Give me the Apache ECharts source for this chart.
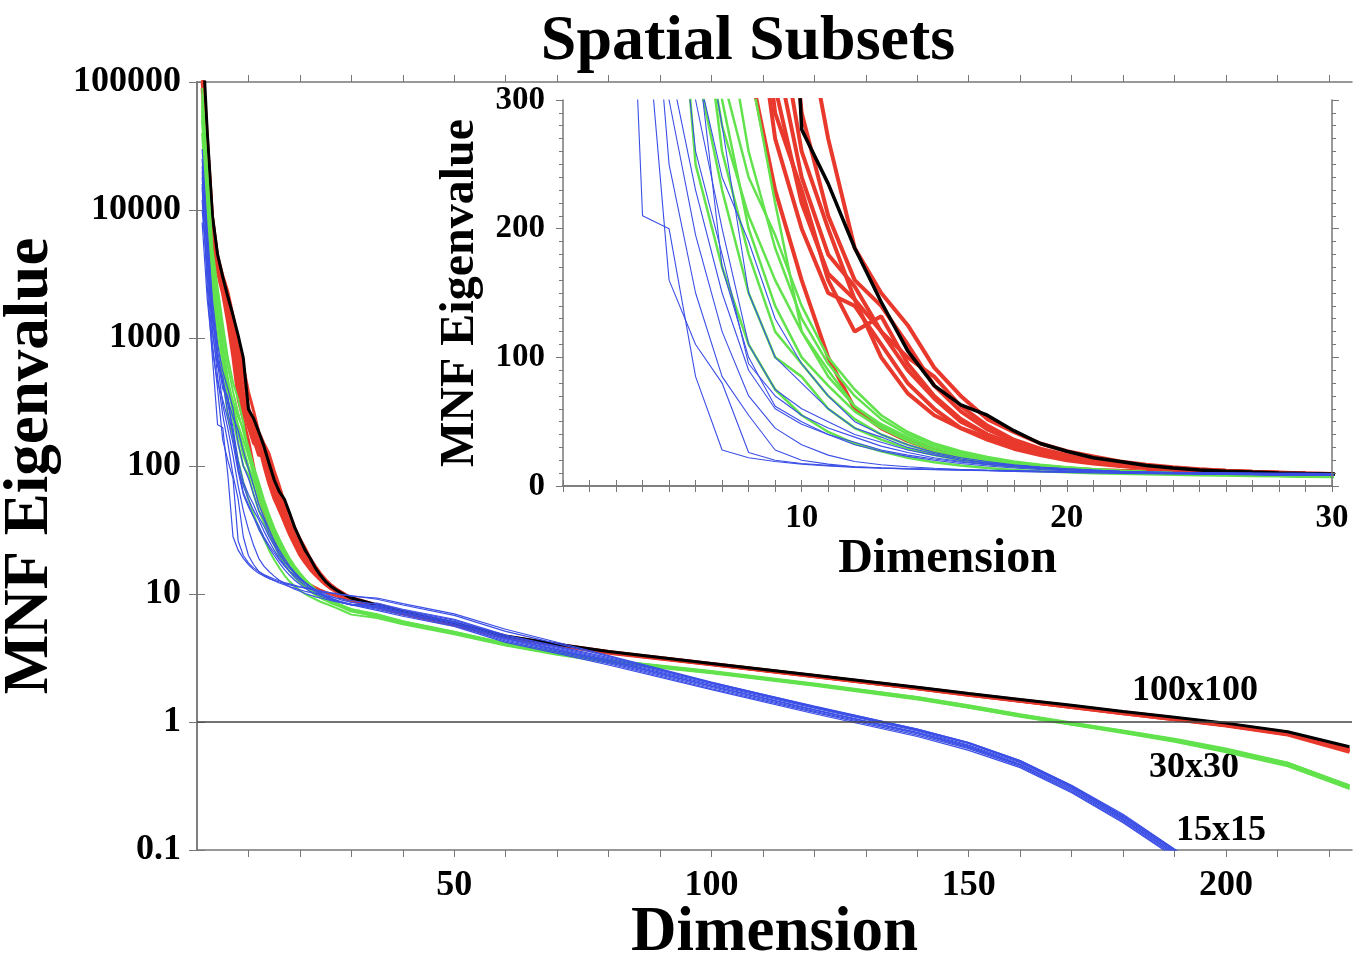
<!DOCTYPE html>
<html>
<head>
<meta charset="utf-8">
<title>Spatial Subsets</title>
<script src="https://cdn.jsdelivr.net/npm/echarts@6/dist/echarts.min.js"></script>
<style>
  html, body { margin: 0; padding: 0; background: #fff; }
  #chart { width: 1363px; height: 955px; }
</style>
</head>
<body>
<div id="chart"></div>
<script>
// dimensions where values were read
const headDims = [1, 2, 3, 4, 5, 6, 7, 8, 9, 10, 11, 12, 13, 14, 15, 16, 17, 18, 19, 20, 21, 22, 23, 24, 25, 26, 27, 28, 29, 30];
const tailDims = [35, 40, 50, 60, 70, 80, 100, 120, 140, 150, 160, 170, 180, 190, 200, 212, 224];

// 100x100 (black, single full image)
const blackHead = [250000, 40000, 9000, 4500, 3000, 2100, 1500, 1050, 700, 277, 235, 185, 143, 105, 78, 63, 55, 43, 33, 27, 22, 19, 16, 14, 12.5, 11.5, 10.8, 10.2, 9.7, 9.3];
const blackTail = [8.2, 7.3, 5.9, 4.7, 4.05, 3.55, 2.87, 2.32, 1.87, 1.67, 1.5, 1.35, 1.21, 1.09, 0.98, 0.84, 0.64];

// 100x100 subsets (red)
const redHeads = [
  [90000, 20000, 6000, 3200, 2200, 1300, 700, 330, 230, 160, 100, 60, 45, 35, 28, 23, 19, 16.5, 14.8, 13.5, 12.5, 11.8, 11.2, 10.7, 10.3, 10, 9.7, 9.4, 9.1, 8.9],
  [110000, 25000, 7000, 3500, 2400, 1500, 850, 420, 270, 200, 150, 140, 110, 80, 60, 45, 36, 29, 24, 20, 17.5, 15.5, 14, 12.8, 11.8, 11, 10.4, 9.9, 9.5, 9.1],
  [130000, 30000, 8000, 3800, 2600, 1700, 950, 460, 290, 230, 160, 120, 132, 95, 70, 52, 40, 32, 26, 22, 18.5, 16, 14.5, 13, 12, 11.2, 10.6, 10, 9.6, 9.2],
  [100000, 28000, 7500, 3600, 2500, 1800, 1100, 560, 340, 240, 180, 155, 120, 100, 85, 62, 47, 36, 29, 24, 20, 17.5, 15.5, 14, 12.8, 11.8, 11, 10.4, 9.8, 9.3],
  [150000, 35000, 8500, 4200, 2900, 2000, 1300, 800, 500, 290, 210, 160, 140, 110, 78, 58, 44, 35, 28, 23, 19.5, 17, 15, 13.5, 12.3, 11.4, 10.7, 10.1, 9.6, 9.2],
  [120000, 26000, 7200, 3400, 2300, 1400, 800, 400, 310, 220, 165, 145, 100, 72, 55, 45, 38, 31, 26, 22, 19, 16.5, 14.7, 13.3, 12.2, 11.3, 10.6, 10, 9.5, 9.1],
  [140000, 32000, 8200, 3900, 2700, 1900, 1200, 650, 380, 260, 200, 145, 120, 90, 68, 50, 40, 33, 27, 22.5, 19, 16.5, 14.8, 13.4, 12.3, 11.4, 10.7, 10.1, 9.6, 9.2],
  [160000, 38000, 9000, 4400, 3100, 2300, 1500, 950, 600, 380, 270, 185, 150, 125, 92, 70, 52, 42, 33, 27, 23, 19, 16.5, 14.5, 13, 11.8, 11, 10.3, 9.8, 9.4]
];
const redTails = [
  [7.9, 7.0, 5.7, 4.55, 3.95, 3.45, 2.8, 2.26, 1.82, 1.62, 1.45, 1.3, 1.16, 1.04, 0.94, 0.8, 0.6],
  [8.0, 7.1, 5.75, 4.6, 4.0, 3.5, 2.82, 2.28, 1.83, 1.63, 1.46, 1.31, 1.17, 1.05, 0.95, 0.81, 0.61],
  [8.1, 7.15, 5.8, 4.62, 4.02, 3.52, 2.84, 2.29, 1.84, 1.64, 1.47, 1.32, 1.18, 1.06, 0.96, 0.81, 0.6],
  [8.1, 7.2, 5.85, 4.65, 4.03, 3.53, 2.85, 2.3, 1.85, 1.65, 1.48, 1.33, 1.19, 1.07, 0.96, 0.82, 0.62],
  [8.0, 7.1, 5.8, 4.6, 4.0, 3.5, 2.83, 2.27, 1.83, 1.63, 1.46, 1.31, 1.17, 1.05, 0.94, 0.8, 0.59],
  [7.95, 7.05, 5.75, 4.58, 3.98, 3.48, 2.81, 2.27, 1.82, 1.62, 1.45, 1.3, 1.16, 1.04, 0.93, 0.79, 0.58],
  [8.05, 7.12, 5.78, 4.6, 4.0, 3.5, 2.83, 2.29, 1.84, 1.64, 1.47, 1.32, 1.18, 1.06, 0.95, 0.81, 0.6],
  [8.2, 7.25, 5.9, 4.68, 4.05, 3.55, 2.86, 2.31, 1.86, 1.66, 1.49, 1.34, 1.2, 1.08, 0.97, 0.83, 0.62]
];

// 30x30 subsets (green)
const greenHeads = [
  [40000, 8000, 2500, 1000, 500, 250, 170, 110, 75, 55, 42, 33, 27, 22, 18.5, 16, 14, 12.5, 11.5, 10.7, 10, 9.5, 9.1, 8.7, 8.4, 8.1, 7.8, 7.5, 7.2, 6.9],
  [50000, 10000, 3000, 1300, 650, 330, 230, 150, 100, 85, 60, 45, 36, 29, 24, 20, 17, 15, 13.5, 12.3, 11.3, 10.5, 9.8, 9.3, 8.9, 8.5, 8.2, 7.9, 7.6, 7.3],
  [60000, 12000, 3500, 1500, 800, 420, 260, 180, 120, 95, 70, 52, 40, 32, 26, 21, 18, 16, 14.2, 12.8, 11.7, 10.8, 10.1, 9.5, 9.0, 8.6, 8.3, 8.0, 7.7, 7.4],
  [70000, 14000, 4000, 1800, 900, 480, 300, 200, 140, 100, 78, 58, 45, 35, 28, 23, 19.5, 17, 15, 13.5, 12.3, 11.3, 10.5, 9.8, 9.3, 8.8, 8.4, 8.1, 7.8, 7.5],
  [55000, 11000, 3200, 1400, 750, 400, 280, 210, 160, 120, 85, 62, 47, 37, 30, 25, 21, 18, 16, 14.2, 12.8, 11.7, 10.8, 10, 9.4, 8.9, 8.5, 8.1, 7.8, 7.5],
  [80000, 17000, 4500, 2200, 1100, 600, 380, 260, 185, 130, 95, 70, 52, 40, 32, 26, 21.5, 18.5, 16.2, 14.4, 13, 11.8, 10.9, 10.1, 9.5, 9, 8.6, 8.2, 7.9, 7.6],
  [65000, 13000, 3800, 1700, 850, 450, 320, 240, 195, 140, 100, 75, 55, 42, 33, 27, 22.5, 19, 16.5, 14.6, 13.1, 11.9, 10.9, 10.1, 9.5, 9, 8.6, 8.2, 7.9, 7.6],
  [90000, 20000, 5000, 2500, 1300, 700, 450, 330, 220, 120, 90, 62, 48, 38, 30, 24.5, 20.5, 17.5, 15.3, 13.6, 12.3, 11.2, 10.4, 9.7, 9.2, 8.7, 8.3, 8, 7.7, 7.4]
];
const greenTails = [
  [6.5, 5.8, 4.85, 3.95, 3.35, 2.92, 2.4, 1.92, 1.5, 1.29, 1.1, 0.95, 0.82, 0.7, 0.58, 0.45, 0.3],
  [6.7, 5.95, 4.95, 4.0, 3.42, 2.98, 2.44, 1.95, 1.53, 1.31, 1.12, 0.96, 0.83, 0.71, 0.59, 0.46, 0.31],
  [6.8, 6.0, 5.0, 4.05, 3.45, 3.0, 2.46, 1.97, 1.55, 1.33, 1.13, 0.97, 0.84, 0.72, 0.6, 0.47, 0.31],
  [6.9, 6.1, 5.05, 4.1, 3.5, 3.04, 2.48, 1.98, 1.56, 1.34, 1.14, 0.98, 0.85, 0.73, 0.61, 0.48, 0.32],
  [6.75, 6.0, 5.0, 4.05, 3.46, 3.01, 2.46, 1.96, 1.54, 1.32, 1.13, 0.97, 0.84, 0.72, 0.6, 0.47, 0.31],
  [6.85, 6.05, 5.02, 4.08, 3.48, 3.02, 2.47, 1.97, 1.55, 1.33, 1.14, 0.98, 0.85, 0.73, 0.6, 0.47, 0.32],
  [6.95, 6.12, 5.08, 4.12, 3.52, 3.05, 2.5, 2.0, 1.57, 1.35, 1.15, 0.99, 0.86, 0.74, 0.62, 0.48, 0.32],
  [6.6, 5.9, 4.92, 4.0, 3.4, 2.96, 2.43, 1.94, 1.52, 1.3, 1.11, 0.96, 0.83, 0.71, 0.59, 0.46, 0.3]
];

// 15x15 subsets (blue)
const blueHeads = [
  [15000, 2500, 700, 210, 200, 85, 28, 22, 19, 17, 15.5, 14.5, 13.8, 13.2, 12.8, 12.4, 12.1, 11.8, 11.5, 11.3, 11.1, 10.9, 10.7, 10.5, 10.3, 10.2, 10.0, 9.9, 9.8, 9.6],
  [12000, 3000, 900, 400, 160, 110, 80, 26, 20, 17.5, 16, 15, 14.2, 13.6, 13.1, 12.7, 12.3, 12, 11.7, 11.4, 11.2, 11, 10.8, 10.6, 10.4, 10.2, 10.1, 9.9, 9.8, 9.7],
  [18000, 4000, 1200, 500, 250, 150, 85, 55, 28, 20, 17, 15, 14, 13.3, 12.7, 12.2, 11.8, 11.4, 11.1, 10.8, 10.5, 10.3, 10.1, 9.9, 9.7, 9.5, 9.3, 9.2, 9.0, 8.9],
  [20000, 5000, 1500, 650, 300, 195, 120, 70, 45, 32, 24, 19, 16.5, 15, 13.8, 12.8, 12, 11.4, 10.9, 10.5, 10.1, 9.8, 9.5, 9.3, 9.1, 8.9, 8.7, 8.6, 8.4, 8.3],
  [8000, 2000, 800, 450, 330, 230, 150, 90, 60, 48, 40, 34, 28, 24, 21, 18.5, 16.5, 15, 14, 13, 12.2, 11.5, 10.9, 10.4, 10, 9.6, 9.3, 9.0, 8.8, 8.6],
  [25000, 6000, 1800, 800, 450, 260, 180, 95, 70, 55, 45, 38, 31, 26, 22, 19, 17, 15, 13.5, 12.5, 11.7, 11, 10.4, 9.9, 9.5, 9.2, 8.9, 8.7, 8.5, 8.3],
  [22000, 5500, 1600, 700, 400, 350, 170, 100, 62, 50, 40, 32, 27, 23, 20, 17.5, 15.5, 14, 12.8, 11.9, 11.1, 10.5, 10, 9.6, 9.3, 9, 8.8, 8.6, 8.4, 8.2],
  [30000, 7000, 2000, 900, 550, 400, 280, 150, 100, 80, 60, 45, 38, 30, 25, 21, 18, 16, 14.5, 13.2, 12.2, 11.4, 10.7, 10.1, 9.6, 9.2, 8.9, 8.6, 8.4, 8.2],
  [16000, 4500, 1400, 700, 450, 330, 240, 190, 130, 95, 70, 50, 40, 32, 26, 22, 19, 16.5, 14.8, 13.4, 12.3, 11.4, 10.7, 10.1, 9.6, 9.2, 8.9, 8.6, 8.4, 8.2],
  [10000, 3500, 1100, 600, 500, 300, 200, 110, 75, 60, 50, 40, 34, 28, 24, 20, 18, 16, 14.5, 13.3, 12.3, 11.5, 10.8, 10.2, 9.7, 9.3, 9, 8.7, 8.5, 8.3]
];
const blueTails = [
  [9.3, 8.4, 7.0, 5.3, 4.2, 3.3, 2.05, 1.32, 0.88, 0.69, 0.5, 0.32, 0.19, 0.102, 0.056, 0.027, 0.013],
  [9.1, 8.2, 6.8, 5.1, 4.1, 3.25, 2.02, 1.3, 0.87, 0.68, 0.49, 0.315, 0.185, 0.1, 0.055, 0.026, 0.013],
  [8.3, 7.5, 6.25, 4.7, 3.85, 3.12, 2.0, 1.3, 0.86, 0.68, 0.49, 0.31, 0.182, 0.099, 0.054, 0.026, 0.012],
  [7.6, 6.85, 5.7, 4.28, 3.52, 2.85, 1.82, 1.19, 0.79, 0.62, 0.45, 0.285, 0.166, 0.09, 0.049, 0.024, 0.011],
  [8.0, 7.2, 6.0, 4.5, 3.7, 3.0, 1.92, 1.25, 0.83, 0.65, 0.47, 0.3, 0.175, 0.095, 0.052, 0.025, 0.012],
  [7.75, 7.0, 5.82, 4.37, 3.59, 2.91, 1.86, 1.21, 0.81, 0.63, 0.46, 0.29, 0.17, 0.092, 0.05, 0.024, 0.012],
  [7.45, 6.7, 5.58, 4.19, 3.44, 2.79, 1.79, 1.16, 0.77, 0.6, 0.44, 0.28, 0.163, 0.088, 0.048, 0.023, 0.011],
  [8.15, 7.35, 6.12, 4.6, 3.77, 3.06, 1.96, 1.28, 0.85, 0.66, 0.48, 0.306, 0.179, 0.097, 0.053, 0.026, 0.012],
  [8.5, 7.6, 6.35, 4.77, 3.92, 3.18, 2.03, 1.33, 0.88, 0.69, 0.5, 0.318, 0.186, 0.1, 0.055, 0.027, 0.013],
  [7.9, 7.13, 5.94, 4.46, 3.66, 2.97, 1.9, 1.24, 0.82, 0.64, 0.465, 0.297, 0.173, 0.094, 0.051, 0.025, 0.012]
];

const mainXLabels = [50, 100, 150, 200];
const insetXLabels = [10, 20, 30];
const curveLabels = ['100x100', '30x30', '15x15'];

const FONT = 'Liberation Serif';
const AXIS_COLOR = '#777';
const COLORS = { black: '#000000', red: '#e8392c', green: '#62e24c', blue: '#3b4fe6' };

const chart = echarts.init(document.getElementById('chart'));

function toPoints(head, tail) {
  const pts = head.map((v, i) => [headDims[i], v]);
  tail.forEach((v, i) => pts.push([tailDims[i], v]));
  return pts;
}

// tick positions (not data)
const mainTicks = [];
for (let t = 10; t <= 220; t += 10) mainTicks.push(t);
const insetTicks = [];
for (let t = 1; t <= 30; t++) insetTicks.push(t);

const series = [];
function addLine(pts, color, wMain, wInset, markLine) {
  series.push({
    type: 'line', xAxisIndex: 0, yAxisIndex: 0, data: pts,
    showSymbol: false, symbol: 'none', clip: true, silent: true,
    lineStyle: { color: color, width: wMain },
    markLine: markLine
  });
  series.push({
    type: 'line', xAxisIndex: 2, yAxisIndex: 2, data: pts,
    showSymbol: false, symbol: 'none', clip: true, silent: true, z: 6,
    lineStyle: { color: color, width: wInset }
  });
}

redHeads.forEach((h, i) => addLine(toPoints(h, redTails[i]), COLORS.red, 3, 4));
addLine(toPoints(blackHead, blackTail), COLORS.black, 3, 3.5, {
  silent: true, symbol: 'none', label: { show: false },
  lineStyle: { color: '#444', width: 1.5, type: 'solid' },
  data: [{ yAxis: 1 }]
});
greenHeads.forEach((h, i) => addLine(toPoints(h, greenTails[i]), COLORS.green, 2, 2.5));
blueHeads.forEach((h, i) => addLine(toPoints(h, blueTails[i]), COLORS.blue, 1.2, 1.1));

const labelStyle = (size) => ({ fontFamily: FONT, fontWeight: 'bold', fontSize: size, color: '#000' });
const line = { show: true, lineStyle: { color: AXIS_COLOR, width: 1.5 } };
const tick = (len) => ({ show: true, length: len, lineStyle: { color: AXIS_COLOR, width: 1 } });

function logLabel(v) {
  return v < 1 ? v.toFixed(1) : String(Math.round(v));
}

const option = {
  animation: false,
  backgroundColor: '#fff',
  grid: [
    { left: 197, right: 11, top: 82, bottom: 105, outerBoundsMode: 'none', containLabel: false },
    { left: 563, right: 31, top: 100, bottom: 469, outerBoundsMode: 'none', containLabel: false,
      show: true, backgroundColor: '#fff', borderWidth: 0, z: 1 }
  ],
  xAxis: [
    {
      type: 'value', gridIndex: 0, min: 0, max: 224.5, position: 'bottom',
      axisLine: line, axisTick: Object.assign(tick(7), { customValues: mainTicks }),
      axisLabel: Object.assign(labelStyle(36), { customValues: mainXLabels, margin: 18 }),
      splitLine: { show: false },
      name: 'Dimension', nameLocation: 'middle', nameGap: 52, nameMoveOverlap: false,
      nameTextStyle: labelStyle(63)
    },
    {
      type: 'value', gridIndex: 0, min: 0, max: 224.5, position: 'top',
      axisLine: line, axisTick: Object.assign(tick(7), { customValues: mainTicks }),
      axisLabel: { show: false }, splitLine: { show: false }
    },
    {
      type: 'value', gridIndex: 1, min: 1, max: 30, position: 'bottom', z: 7,
      axisLine: line, axisTick: Object.assign(tick(6), { customValues: insetTicks }),
      axisLabel: Object.assign(labelStyle(33), { customValues: insetXLabels, margin: 16 }),
      splitLine: { show: false },
      name: 'Dimension', nameLocation: 'middle', nameGap: 48,
      nameTextStyle: labelStyle(48)
    },
    {
      type: 'value', gridIndex: 1, min: 1, max: 30, position: 'top', z: 7,
      axisLine: line, axisTick: Object.assign(tick(6), { customValues: insetTicks }),
      axisLabel: { show: false }, splitLine: { show: false }
    }
  ],
  yAxis: [
    {
      type: 'log', logBase: 10, gridIndex: 0, min: 0.1, max: 100000, interval: 1, position: 'left',
      axisLine: line, axisTick: tick(8),
      axisLabel: Object.assign(labelStyle(36), { margin: 16, formatter: logLabel }),
      splitLine: { show: false },
      name: 'MNF Eigenvalue', nameLocation: 'middle', nameGap: 116,
      nameTextStyle: labelStyle(63)
    },
    {
      type: 'log', logBase: 10, gridIndex: 0, min: 0.1, max: 100000, interval: 1, position: 'right',
      axisLine: line, axisTick: tick(8), axisLabel: { show: false }, splitLine: { show: false }
    },
    {
      type: 'value', gridIndex: 1, min: 0, max: 300, interval: 100, position: 'left', z: 7,
      axisLine: line, axisTick: tick(7),
      minorTick: { show: true, splitNumber: 10, length: 4, lineStyle: { color: AXIS_COLOR } },
      axisLabel: Object.assign(labelStyle(33), { margin: 18 }),
      splitLine: { show: false },
      name: 'MNF Eigenvalue', nameLocation: 'middle', nameGap: 70,
      nameTextStyle: labelStyle(48)
    },
    {
      type: 'value', gridIndex: 1, min: 0, max: 300, interval: 100, position: 'right', z: 7,
      axisLine: line, axisTick: tick(7),
      minorTick: { show: true, splitNumber: 10, length: 4, lineStyle: { color: AXIS_COLOR } },
      axisLabel: { show: false }, splitLine: { show: false }
    }
  ],
  graphic: [
    { type: 'text', x: 748, y: 42, style: { text: 'Spatial Subsets', font: 'bold 64px "Liberation Serif"', fill: '#000', align: 'center', verticalAlign: 'middle' } },
    { type: 'text', x: 1195, y: 691, style: { text: curveLabels[0], font: 'bold 36px "Liberation Serif"', fill: '#000', align: 'center', verticalAlign: 'middle' } },
    { type: 'text', x: 1194, y: 768, style: { text: curveLabels[1], font: 'bold 36px "Liberation Serif"', fill: '#000', align: 'center', verticalAlign: 'middle' } },
    { type: 'text', x: 1221, y: 831, style: { text: curveLabels[2], font: 'bold 36px "Liberation Serif"', fill: '#000', align: 'center', verticalAlign: 'middle' } }
  ],
  series: series
};

chart.setOption(option);
</script>
</body>
</html>
